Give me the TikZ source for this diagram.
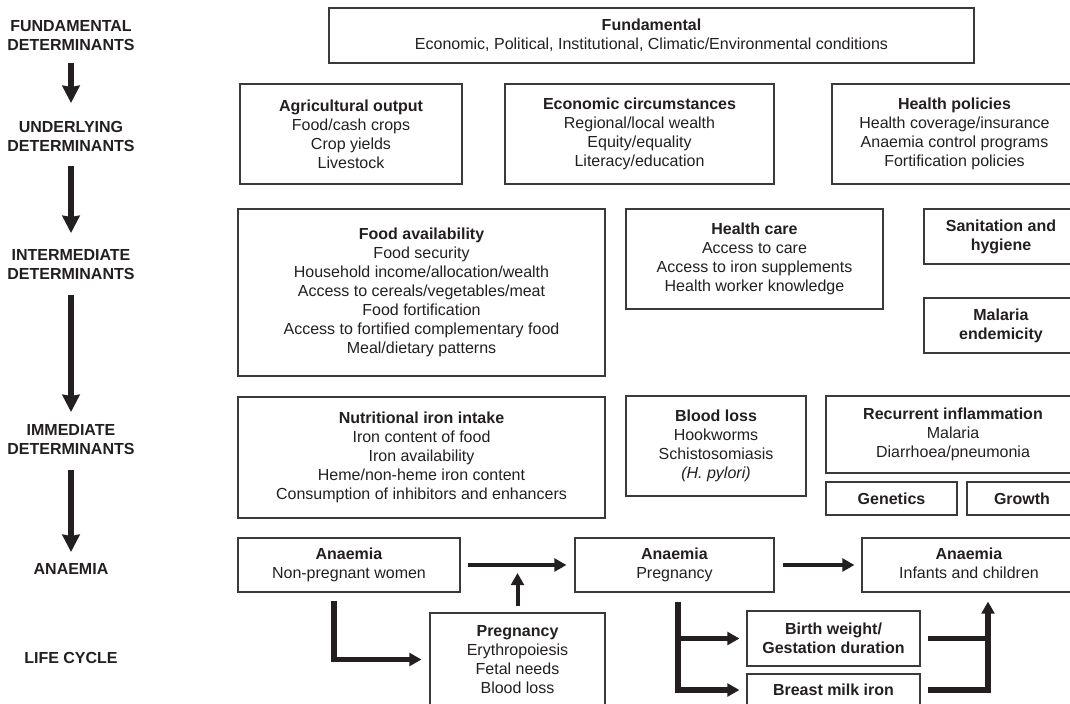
\documentclass[tikz,border=0pt]{standalone}
\usepackage{fontspec}
\setmainfont{Liberation Sans}
\usetikzlibrary{arrows.meta,calc}
\definecolor{ink}{HTML}{231F20}
\definecolor{edge}{HTML}{3A3A3A}
\tikzset{
  every node/.style={text=ink,font=\fontsize{12pt}{14.25pt}\selectfont},
  wh/.style 2 args={minimum width=#1*0.75pt,minimum height=#2*0.75pt},
  box/.style={draw=edge,line width=0.8pt,inner sep=0pt,align=center},
  lab/.style={inner sep=0pt,align=center,font=\fontsize{12pt}{14.25pt}\selectfont\bfseries},
  bigarrow/.style={draw=ink,line width=4pt,-{Stealth[length=13pt,width=13pt,inset=1pt]}},
  conn/.style={draw=ink,line width=3pt,-{Triangle[length=9pt,width=9.5pt]}},
  thickconn/.style={draw=ink,line width=4.3pt,-{Triangle[length=9pt,width=9.5pt]}},
  thickline/.style={draw=ink,line width=4.3pt}
}
\begin{document}
\begin{tikzpicture}[x=0.75pt,y=-0.75pt]
\useasboundingbox (0,0) rectangle (1070,703);
\clip (0,0) rectangle (1070,703);

% left column labels
\node[lab] (l1) at (71,35.5) {FUNDAMENTAL\\DETERMINANTS};
\node[lab] (l2) at (71,136) {UNDERLYING\\DETERMINANTS};
\node[lab] (l3) at (71,264.5) {INTERMEDIATE\\DETERMINANTS};
\node[lab] (l4) at (71,439.5) {IMMEDIATE\\DETERMINANTS};
\node[lab] (l5) at (71,569) {ANAEMIA};
\node[lab] (l6) at (71,658) {LIFE CYCLE};

\draw[bigarrow,shorten <=20.6pt,shorten >=24.75pt] (l1.center) -- (l2.center);
\draw[bigarrow,shorten <=22.5pt,shorten >=23.6pt] (l2.center) -- (l3.center);
\draw[bigarrow,shorten <=22.9pt,shorten >=20.6pt] (l3.center) -- (l4.center);
\draw[bigarrow,shorten <=22.9pt,shorten >=12.75pt] (l4.center) -- (l5.center);

% row 1
\node[box,wh={645}{55}] (fund) at (651.5,35.5)
  {\textbf{Fundamental}\\Economic, Political, Institutional, Climatic/Environmental conditions};

% row 2
\node[box,wh={222}{100}] (agri) at (351,134)
  {\textbf{Agricultural output}\\Food/cash crops\\Crop yields\\Livestock};
\node[box,wh={269}{100}] (econ) at (639.5,134)
  {\textbf{Economic circumstances}\\Regional/local wealth\\Equity/equality\\Literacy/education};
\node[box,wh={245}{100}] (hpol) at (954.5,134)
  {\textbf{Health policies}\\Health coverage/insurance\\Anaemia control programs\\Fortification policies};

% row 3
\node[box,wh={367}{167}] (food) at (421.5,292.5)
  {\textbf{Food availability}\\Food security\\Household income/allocation/wealth\\Access to cereals/vegetables/meat\\Food fortification\\Access to fortified complementary food\\Meal/dietary patterns};
\node[box,wh={257}{100}] (hcare) at (754.5,259)
  {\textbf{Health care}\\Access to care\\Access to iron supplements\\Health worker knowledge};
\node[box,wh={154}{55}] (sanit) at (1001,236.5)
  {\textbf{Sanitation and}\\\textbf{hygiene}};
\node[box,wh={154}{55}] (malaria) at (1001,325.5)
  {\textbf{Malaria}\\\textbf{endemicity}};

% row 4
\node[box,wh={367}{121}] (nutr) at (421.5,457.5)
  {\textbf{Nutritional iron intake}\\Iron content of food\\Iron availability\\Heme/non-heme iron content\\Consumption of inhibitors and enhancers};
\node[box,wh={180}{100}] (blood) at (716,446)
  {\textbf{Blood loss}\\Hookworms\\Schistosomiasis\\\textit{(H. pylori)}};
\node[box,wh={254}{77}] (recur) at (953,434.5)
  {\textbf{Recurrent inflammation}\\Malaria\\Diarrhoea/pneumonia};
\node[box,wh={131}{33}] (genet) at (891.5,498.5) {\textbf{Genetics}};
\node[box,wh={110}{33}] (growth) at (1022,498.5) {\textbf{Growth}};

% row 5
\node[box,wh={222}{54}] (anNP) at (349,565) {\textbf{Anaemia}\\Non-pregnant women};
\node[box,wh={199}{54}] (anPreg) at (674.5,565) {\textbf{Anaemia}\\Pregnancy};
\node[box,wh={214}{54}] (anInf) at (969,565) {\textbf{Anaemia}\\Infants and children\vphantom{g}};

% row 6
\node[box,wh={175}{93}] (preg) at (517.5,659.5)
  {\textbf{Pregnancy}\\Erythropoiesis\\Fetal needs\\Blood loss};
\node[box,wh={173}{55}] (bw) at (833.5,638.5) {\textbf{Birth weight/}\\\textbf{Gestation duration}};
\node[box,wh={173}{32}] (bmilk) at (833.5,690) {\textbf{Breast milk iron}};

% connectors
\coordinate (e1) at (334,600);
\coordinate (t1) at (678,601);
\coordinate (r1) at (988,601);

\draw[conn,shorten <=5.25pt,shorten >=6pt] (anNP.east) -- (anPreg.west);
\draw[conn,shorten <=6pt,shorten >=5.25pt] (anPreg.east) -- (anInf.west);
\draw[conn,shorten <=4.5pt,shorten >=6pt] (preg.north) -- (preg.north |- anNP.east);
\draw[thickconn,shorten <=6pt,shorten >=6pt] (anNP.south -| e1) |- (preg.west);
\draw[thickconn,shorten <=6.75pt,shorten >=5.25pt] (anPreg.south -| t1) |- (bmilk.west);
\draw[thickconn,shorten >=5.25pt] (t1 |- bw.west) -- (bw.west);
\draw[thickline,shorten <=5.25pt] (bw.east) -- (bw.east -| r1);
\draw[thickconn,shorten <=5.25pt,shorten >=6.75pt] (bmilk.east) -| (anInf.south -| r1);
\end{tikzpicture}
\end{document}
